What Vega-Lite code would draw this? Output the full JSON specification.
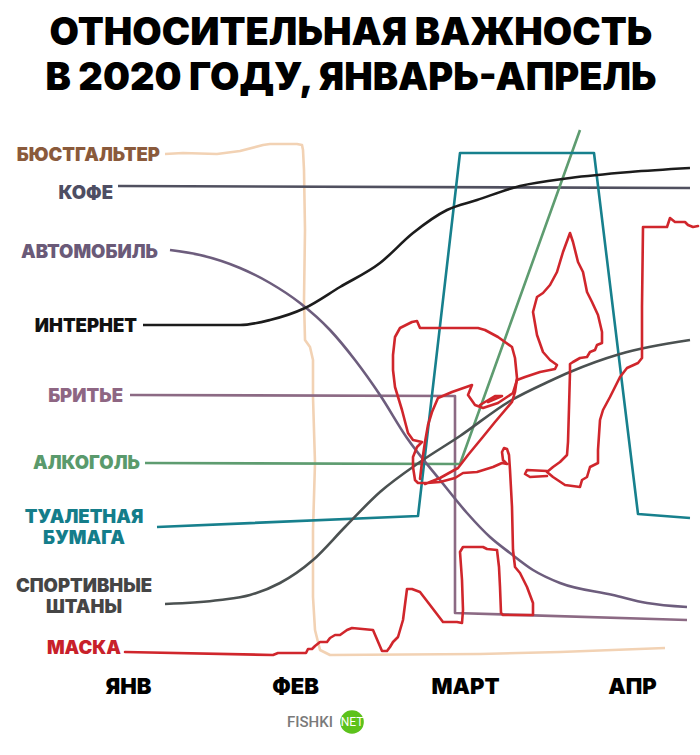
{
  "$schema": "https://vega.github.io/schema/vega-lite/v6.json",
  "width": 700,
  "height": 562,
  "autosize": {"type": "none"},
  "padding": {"top": 110, "left": 0, "right": 0, "bottom": 83},
  "background": "white",
  "config": {"view": {"stroke": null}, "font": "Inter"},
  "title": {
    "text": ["ОТНОСИТЕЛЬНАЯ ВАЖНОСТЬ", "В 2020 ГОДУ, ЯНВАРЬ-АПРЕЛЬ"],
    "anchor": "middle",
    "frame": "group",
    "font": "Inter",
    "fontSize": 38,
    "fontWeight": 900,
    "lineHeight": 45,
    "color": "#000000",
    "offset": 12,
    "dx": 1
  },
  "datasets": {
    "pts": [
      {"s": "БЮСТГАЛЬТЕР", "i": 0, "t": 18.5, "v": 103.6},
      {"s": "БЮСТГАЛЬТЕР", "i": 1, "t": 27.5, "v": 103.8},
      {"s": "БЮСТГАЛЬТЕР", "i": 2, "t": 44.5, "v": 103.6},
      {"s": "БЮСТГАЛЬТЕР", "i": 3, "t": 56, "v": 104.2},
      {"s": "БЮСТГАЛЬТЕР", "i": 4, "t": 67.5, "v": 105.4},
      {"s": "БЮСТГАЛЬТЕР", "i": 5, "t": 71, "v": 105.6},
      {"s": "БЮСТГАЛЬТЕР", "i": 6, "t": 84.5, "v": 105.6},
      {"s": "БЮСТГАЛЬТЕР", "i": 7, "t": 87, "v": 105.4},
      {"s": "БЮСТГАЛЬТЕР", "i": 8, "t": 87.5, "v": 104.4},
      {"s": "БЮСТГАЛЬТЕР", "i": 9, "t": 88, "v": 100.4},
      {"s": "БЮСТГАЛЬТЕР", "i": 10, "t": 88.5, "v": 88.4},
      {"s": "БЮСТГАЛЬТЕР", "i": 11, "t": 88, "v": 74.4},
      {"s": "БЮСТГАЛЬТЕР", "i": 12, "t": 88.5, "v": 66.4},
      {"s": "БЮСТГАЛЬТЕР", "i": 13, "t": 91, "v": 65},
      {"s": "БЮСТГАЛЬТЕР", "i": 14, "t": 92.5, "v": 62.4},
      {"s": "БЮСТГАЛЬТЕР", "i": 15, "t": 92.5, "v": 55},
      {"s": "БЮСТГАЛЬТЕР", "i": 16, "t": 93.5, "v": 41.8},
      {"s": "БЮСТГАЛЬТЕР", "i": 17, "t": 92.5, "v": 28.4},
      {"s": "БЮСТГАЛЬТЕР", "i": 18, "t": 92.5, "v": 15},
      {"s": "БЮСТГАЛЬТЕР", "i": 19, "t": 93.5, "v": 8.4},
      {"s": "БЮСТГАЛЬТЕР", "i": 20, "t": 96, "v": 4.4},
      {"s": "БЮСТГАЛЬТЕР", "i": 21, "t": 101, "v": 3.4},
      {"s": "БЮСТГАЛЬТЕР", "i": 22, "t": 176, "v": 3.6},
      {"s": "БЮСТГАЛЬТЕР", "i": 23, "t": 216, "v": 4},
      {"s": "БЮСТГАЛЬТЕР", "i": 24, "t": 268.5, "v": 4.8},
      {"s": "КОФЕ", "i": 0, "t": -5, "v": 97.2},
      {"s": "КОФЕ", "i": 1, "t": 281, "v": 96.8},
      {"s": "БРИТЬЕ", "i": 0, "t": 1, "v": 55.4},
      {"s": "БРИТЬЕ", "i": 1, "t": 163.5, "v": 55.2},
      {"s": "БРИТЬЕ", "i": 2, "t": 163.5, "v": 11.8},
      {"s": "БРИТЬЕ", "i": 3, "t": 279.5, "v": 10.4},
      {"s": "АЛКОГОЛЬ", "i": 0, "t": 8.5, "v": 41.8},
      {"s": "АЛКОГОЛЬ", "i": 1, "t": 166, "v": 41.6},
      {"s": "АЛКОГОЛЬ", "i": 2, "t": 226, "v": 108.4},
      {"s": "ТУАЛЕТНАЯ БУМАГА", "i": 0, "t": 14.5, "v": 29},
      {"s": "ТУАЛЕТНАЯ БУМАГА", "i": 1, "t": 145, "v": 31.2},
      {"s": "ТУАЛЕТНАЯ БУМАГА", "i": 2, "t": 166, "v": 103.8},
      {"s": "ТУАЛЕТНАЯ БУМАГА", "i": 3, "t": 233, "v": 103.8},
      {"s": "ТУАЛЕТНАЯ БУМАГА", "i": 4, "t": 255, "v": 31.6},
      {"s": "ТУАЛЕТНАЯ БУМАГА", "i": 5, "t": 281, "v": 30.8}
    ],
    "smooth": [
      {"s": "АВТОМОБИЛЬ", "i": 0, "t": 21, "v": 84.4},
      {"s": "АВТОМОБИЛЬ", "i": 1, "t": 36, "v": 83.4},
      {"s": "АВТОМОБИЛЬ", "i": 2, "t": 56, "v": 80.8},
      {"s": "АВТОМОБИЛЬ", "i": 3, "t": 71, "v": 77.8},
      {"s": "АВТОМОБИЛЬ", "i": 4, "t": 86, "v": 73.8},
      {"s": "АВТОМОБИЛЬ", "i": 5, "t": 101, "v": 68.4},
      {"s": "АВТОМОБИЛЬ", "i": 6, "t": 113.5, "v": 62.4},
      {"s": "АВТОМОБИЛЬ", "i": 7, "t": 126, "v": 55.4},
      {"s": "АВТОМОБИЛЬ", "i": 8, "t": 139.5, "v": 46.8},
      {"s": "АВТОМОБИЛЬ", "i": 9, "t": 156, "v": 38.4},
      {"s": "АВТОМОБИЛЬ", "i": 10, "t": 169.5, "v": 31.8},
      {"s": "АВТОМОБИЛЬ", "i": 11, "t": 181, "v": 27},
      {"s": "АВТОМОБИЛЬ", "i": 12, "t": 191, "v": 23.8},
      {"s": "АВТОМОБИЛЬ", "i": 13, "t": 202.5, "v": 20.4},
      {"s": "АВТОМОБИЛЬ", "i": 14, "t": 216, "v": 17.8},
      {"s": "АВТОМОБИЛЬ", "i": 15, "t": 242.5, "v": 15.4},
      {"s": "АВТОМОБИЛЬ", "i": 16, "t": 259.5, "v": 13.8},
      {"s": "АВТОМОБИЛЬ", "i": 17, "t": 279.5, "v": 13},
      {"s": "ИНТЕРНЕТ", "i": 0, "t": 7.5, "v": 69.4},
      {"s": "ИНТЕРНЕТ", "i": 1, "t": 56, "v": 69.4},
      {"s": "ИНТЕРНЕТ", "i": 2, "t": 71, "v": 70.4},
      {"s": "ИНТЕРНЕТ", "i": 3, "t": 88.5, "v": 72.8},
      {"s": "ИНТЕРНЕТ", "i": 4, "t": 106, "v": 77},
      {"s": "ИНТЕРНЕТ", "i": 5, "t": 126, "v": 81.8},
      {"s": "ИНТЕРНЕТ", "i": 6, "t": 142.5, "v": 87.8},
      {"s": "ИНТЕРНЕТ", "i": 7, "t": 159.5, "v": 92.4},
      {"s": "ИНТЕРНЕТ", "i": 8, "t": 174.5, "v": 94.4},
      {"s": "ИНТЕРНЕТ", "i": 9, "t": 196, "v": 97.2},
      {"s": "ИНТЕРНЕТ", "i": 10, "t": 221, "v": 98.8},
      {"s": "ИНТЕРНЕТ", "i": 11, "t": 251, "v": 100},
      {"s": "ИНТЕРНЕТ", "i": 12, "t": 281, "v": 100.8},
      {"s": "СПОРТИВНЫЕ ШТАНЫ", "i": 0, "t": 18.5, "v": 13.6},
      {"s": "СПОРТИВНЫЕ ШТАНЫ", "i": 1, "t": 46, "v": 14.4},
      {"s": "СПОРТИВНЫЕ ШТАНЫ", "i": 2, "t": 61, "v": 15.4},
      {"s": "СПОРТИВНЫЕ ШТАНЫ", "i": 3, "t": 76, "v": 17.8},
      {"s": "СПОРТИВНЫЕ ШТАНЫ", "i": 4, "t": 92.5, "v": 22.4},
      {"s": "СПОРТИВНЫЕ ШТАНЫ", "i": 5, "t": 108.5, "v": 29},
      {"s": "СПОРТИВНЫЕ ШТАНЫ", "i": 6, "t": 126, "v": 36},
      {"s": "СПОРТИВНЫЕ ШТАНЫ", "i": 7, "t": 146, "v": 42},
      {"s": "СПОРТИВНЫЕ ШТАНЫ", "i": 8, "t": 166, "v": 47.2},
      {"s": "СПОРТИВНЫЕ ШТАНЫ", "i": 9, "t": 191, "v": 54.2},
      {"s": "СПОРТИВНЫЕ ШТАНЫ", "i": 10, "t": 211, "v": 58.2},
      {"s": "СПОРТИВНЫЕ ШТАНЫ", "i": 11, "t": 221, "v": 60},
      {"s": "СПОРТИВНЫЕ ШТАНЫ", "i": 12, "t": 246, "v": 63.6},
      {"s": "СПОРТИВНЫЕ ШТАНЫ", "i": 13, "t": 281, "v": 66.4}
    ],
    "mask": [
      {"seg": "A", "i": 0, "t": -1.5, "v": 4},
      {"seg": "A", "i": 1, "t": 72.5, "v": 3.4},
      {"seg": "A", "i": 2, "t": 75, "v": 3.8},
      {"seg": "A", "i": 3, "t": 89, "v": 3.8},
      {"seg": "A", "i": 4, "t": 90, "v": 4.6},
      {"seg": "A", "i": 5, "t": 92, "v": 4.6},
      {"seg": "A", "i": 6, "t": 93.5, "v": 5.2},
      {"seg": "A", "i": 7, "t": 96, "v": 6},
      {"seg": "A", "i": 8, "t": 99.5, "v": 6},
      {"seg": "A", "i": 9, "t": 101, "v": 6.8},
      {"seg": "A", "i": 10, "t": 103.5, "v": 7.4},
      {"seg": "A", "i": 11, "t": 106, "v": 7.4},
      {"seg": "A", "i": 12, "t": 109.5, "v": 8.4},
      {"seg": "A", "i": 13, "t": 112, "v": 8.8},
      {"seg": "A", "i": 14, "t": 122.5, "v": 8.4},
      {"seg": "A", "i": 15, "t": 127, "v": 4.2},
      {"seg": "A", "i": 16, "t": 129.5, "v": 4.2},
      {"seg": "A", "i": 17, "t": 131, "v": 5},
      {"seg": "A", "i": 18, "t": 132.5, "v": 6},
      {"seg": "A", "i": 19, "t": 135, "v": 7},
      {"seg": "A", "i": 20, "t": 137.5, "v": 10.4},
      {"seg": "A", "i": 21, "t": 139.5, "v": 16.6},
      {"seg": "A", "i": 22, "t": 142, "v": 16.6},
      {"seg": "A", "i": 23, "t": 146, "v": 16},
      {"seg": "A", "i": 24, "t": 151, "v": 13.4},
      {"seg": "A", "i": 25, "t": 157.5, "v": 10},
      {"seg": "A", "i": 26, "t": 164.5, "v": 10},
      {"seg": "A", "i": 27, "t": 167, "v": 9.8},
      {"seg": "A", "i": 28, "t": 167.5, "v": 12.4},
      {"seg": "A", "i": 29, "t": 167, "v": 18.4},
      {"seg": "A", "i": 30, "t": 166, "v": 24},
      {"seg": "A", "i": 31, "t": 167.5, "v": 25},
      {"seg": "A", "i": 32, "t": 177.5, "v": 25},
      {"seg": "A", "i": 33, "t": 179.5, "v": 24.6},
      {"seg": "A", "i": 34, "t": 184.5, "v": 24.4},
      {"seg": "A", "i": 35, "t": 185.5, "v": 21},
      {"seg": "A", "i": 36, "t": 186, "v": 17},
      {"seg": "A", "i": 37, "t": 186.5, "v": 11.8},
      {"seg": "A", "i": 38, "t": 187.5, "v": 11.4},
      {"seg": "A", "i": 39, "t": 202.5, "v": 11.4},
      {"seg": "A", "i": 40, "t": 202.5, "v": 13.8},
      {"seg": "A", "i": 41, "t": 199.5, "v": 17},
      {"seg": "A", "i": 42, "t": 196, "v": 19.8},
      {"seg": "A", "i": 43, "t": 193.5, "v": 21},
      {"seg": "A", "i": 44, "t": 192.5, "v": 24.4},
      {"seg": "A", "i": 45, "t": 192, "v": 33},
      {"seg": "A", "i": 46, "t": 191, "v": 40.4},
      {"seg": "A", "i": 47, "t": 190.5, "v": 43.4},
      {"seg": "A", "i": 48, "t": 189.5, "v": 44.6},
      {"seg": "A", "i": 49, "t": 188, "v": 44.8},
      {"seg": "A", "i": 50, "t": 187, "v": 44},
      {"seg": "A", "i": 51, "t": 187.5, "v": 42.4},
      {"seg": "A", "i": 52, "t": 189.5, "v": 41.6},
      {"seg": "A", "i": 53, "t": 187, "v": 41.8},
      {"seg": "A", "i": 54, "t": 182.5, "v": 41},
      {"seg": "A", "i": 55, "t": 174.5, "v": 40},
      {"seg": "A", "i": 56, "t": 167.5, "v": 39.8},
      {"seg": "A", "i": 57, "t": 163.5, "v": 38.8},
      {"seg": "A", "i": 58, "t": 156, "v": 38},
      {"seg": "A", "i": 59, "t": 149.5, "v": 37.8},
      {"seg": "A", "i": 60, "t": 145, "v": 37.8},
      {"seg": "A", "i": 61, "t": 143.5, "v": 38.4},
      {"seg": "A", "i": 62, "t": 142.5, "v": 41},
      {"seg": "A", "i": 63, "t": 142.5, "v": 43},
      {"seg": "A", "i": 64, "t": 144.5, "v": 45},
      {"seg": "A", "i": 65, "t": 147, "v": 46},
      {"seg": "A", "i": 66, "t": 142.5, "v": 46.4},
      {"seg": "A", "i": 67, "t": 140, "v": 47.8},
      {"seg": "A", "i": 68, "t": 137, "v": 52.4},
      {"seg": "A", "i": 69, "t": 133.5, "v": 57},
      {"seg": "A", "i": 70, "t": 132.5, "v": 60.4},
      {"seg": "A", "i": 71, "t": 132.5, "v": 63.4},
      {"seg": "A", "i": 72, "t": 133.5, "v": 67},
      {"seg": "A", "i": 73, "t": 136, "v": 68.8},
      {"seg": "A", "i": 74, "t": 142, "v": 70},
      {"seg": "A", "i": 75, "t": 144.5, "v": 70.2},
      {"seg": "A", "i": 76, "t": 146, "v": 68.8},
      {"seg": "A", "i": 77, "t": 175, "v": 68.8},
      {"seg": "A", "i": 78, "t": 178.5, "v": 68.4},
      {"seg": "A", "i": 79, "t": 185, "v": 67},
      {"seg": "A", "i": 80, "t": 192, "v": 65},
      {"seg": "A", "i": 81, "t": 193.5, "v": 62.8},
      {"seg": "A", "i": 82, "t": 194.5, "v": 58.8},
      {"seg": "A", "i": 83, "t": 193.5, "v": 56},
      {"seg": "A", "i": 84, "t": 192, "v": 54},
      {"seg": "A", "i": 85, "t": 183.5, "v": 50},
      {"seg": "A", "i": 86, "t": 177, "v": 46.8},
      {"seg": "A", "i": 87, "t": 170, "v": 43.4},
      {"seg": "A", "i": 88, "t": 165, "v": 40.8},
      {"seg": "A", "i": 89, "t": 156, "v": 38.8},
      {"seg": "A", "i": 90, "t": 148.5, "v": 37.6},
      {"seg": "B", "i": 0, "t": 146, "v": 38.6},
      {"seg": "B", "i": 1, "t": 147, "v": 42},
      {"seg": "B", "i": 2, "t": 148.5, "v": 46},
      {"seg": "B", "i": 3, "t": 150, "v": 49.4},
      {"seg": "B", "i": 4, "t": 152, "v": 52},
      {"seg": "B", "i": 5, "t": 155, "v": 54.8},
      {"seg": "B", "i": 6, "t": 162, "v": 56},
      {"seg": "B", "i": 7, "t": 172, "v": 57.4},
      {"seg": "B", "i": 8, "t": 170, "v": 55.4},
      {"seg": "B", "i": 9, "t": 173.5, "v": 53.4},
      {"seg": "B", "i": 10, "t": 177.5, "v": 52.8},
      {"seg": "B", "i": 11, "t": 185, "v": 53.8},
      {"seg": "B", "i": 12, "t": 192.5, "v": 55.8},
      {"seg": "B", "i": 13, "t": 194.5, "v": 58.4},
      {"seg": "B", "i": 14, "t": 198.5, "v": 59},
      {"seg": "B", "i": 15, "t": 206, "v": 60},
      {"seg": "B", "i": 16, "t": 213.5, "v": 60.6},
      {"seg": "B", "i": 17, "t": 214.5, "v": 61.4},
      {"seg": "B", "i": 18, "t": 211, "v": 62.4},
      {"seg": "B", "i": 19, "t": 207.5, "v": 64},
      {"seg": "B", "i": 20, "t": 204.5, "v": 67.4},
      {"seg": "B", "i": 21, "t": 202.5, "v": 72},
      {"seg": "B", "i": 22, "t": 204.5, "v": 75},
      {"seg": "B", "i": 23, "t": 207.5, "v": 75.8},
      {"seg": "B", "i": 24, "t": 211, "v": 77.4},
      {"seg": "B", "i": 25, "t": 214.5, "v": 80},
      {"seg": "B", "i": 26, "t": 217.5, "v": 84},
      {"seg": "B", "i": 27, "t": 221, "v": 87.8},
      {"seg": "B", "i": 28, "t": 222.5, "v": 86},
      {"seg": "B", "i": 29, "t": 225, "v": 82},
      {"seg": "B", "i": 30, "t": 227.5, "v": 80},
      {"seg": "B", "i": 31, "t": 229.5, "v": 76},
      {"seg": "B", "i": 32, "t": 232, "v": 74},
      {"seg": "B", "i": 33, "t": 235, "v": 71.4},
      {"seg": "B", "i": 34, "t": 237, "v": 68},
      {"seg": "B", "i": 35, "t": 237, "v": 65.8},
      {"seg": "B", "i": 36, "t": 234.5, "v": 65.4},
      {"seg": "B", "i": 37, "t": 233.5, "v": 64.4},
      {"seg": "B", "i": 38, "t": 231, "v": 64},
      {"seg": "B", "i": 39, "t": 229.5, "v": 63},
      {"seg": "B", "i": 40, "t": 226, "v": 62.8},
      {"seg": "B", "i": 41, "t": 222.5, "v": 62},
      {"seg": "B", "i": 42, "t": 221, "v": 61.6},
      {"seg": "B", "i": 43, "t": 221, "v": 60},
      {"seg": "B", "i": 44, "t": 220.5, "v": 52.8},
      {"seg": "B", "i": 45, "t": 220, "v": 46},
      {"seg": "B", "i": 46, "t": 219.5, "v": 43.4},
      {"seg": "B", "i": 47, "t": 216, "v": 42},
      {"seg": "B", "i": 48, "t": 212.5, "v": 41},
      {"seg": "B", "i": 49, "t": 209.5, "v": 40},
      {"seg": "B", "i": 50, "t": 212.5, "v": 39},
      {"seg": "B", "i": 51, "t": 218.5, "v": 37.4},
      {"seg": "B", "i": 52, "t": 226, "v": 37},
      {"seg": "B", "i": 53, "t": 227, "v": 38.4},
      {"seg": "B", "i": 54, "t": 229.5, "v": 39},
      {"seg": "B", "i": 55, "t": 231, "v": 41},
      {"seg": "B", "i": 56, "t": 235, "v": 41.8},
      {"seg": "B", "i": 57, "t": 235, "v": 44.4},
      {"seg": "B", "i": 58, "t": 236, "v": 50.4},
      {"seg": "B", "i": 59, "t": 237.5, "v": 52.4},
      {"seg": "B", "i": 60, "t": 241, "v": 55},
      {"seg": "B", "i": 61, "t": 246, "v": 59},
      {"seg": "B", "i": 62, "t": 249.5, "v": 60.8},
      {"seg": "B", "i": 63, "t": 255, "v": 61.8},
      {"seg": "B", "i": 64, "t": 257, "v": 62.8},
      {"seg": "B", "i": 65, "t": 257, "v": 73},
      {"seg": "B", "i": 66, "t": 257.5, "v": 89},
      {"seg": "B", "i": 67, "t": 269.5, "v": 89},
      {"seg": "B", "i": 68, "t": 271, "v": 90.8},
      {"seg": "B", "i": 69, "t": 273.5, "v": 90},
      {"seg": "B", "i": 70, "t": 278.5, "v": 90},
      {"seg": "B", "i": 71, "t": 280, "v": 89.4},
      {"seg": "B", "i": 72, "t": 282.5, "v": 89},
      {"seg": "B", "i": 73, "t": 285, "v": 89.2},
      {"seg": "C", "i": 0, "t": 176, "v": 53.4},
      {"seg": "C", "i": 1, "t": 183.5, "v": 55.2},
      {"seg": "C", "i": 2, "t": 187, "v": 55.2},
      {"seg": "C", "i": 3, "t": 180, "v": 54},
      {"seg": "D", "i": 0, "t": 209.5, "v": 40.2},
      {"seg": "D", "i": 1, "t": 199.5, "v": 40.4},
      {"seg": "D", "i": 2, "t": 198.5, "v": 39.6},
      {"seg": "D", "i": 3, "t": 201, "v": 39},
      {"seg": "D", "i": 4, "t": 209.5, "v": 39.2}
    ],
    "labels": [
      {"s": "БЮСТГАЛЬТЕР", "text": "БЮСТГАЛЬТЕР", "t": 16, "v": 103.4},
      {"s": "КОФЕ", "text": "КОФЕ", "t": -7.5, "v": 95.8},
      {"s": "АВТОМОБИЛЬ", "text": "АВТОМОБИЛЬ", "t": 15, "v": 84},
      {"s": "ИНТЕРНЕТ", "text": "ИНТЕРНЕТ", "t": 4.5, "v": 69.2},
      {"s": "БРИТЬЕ", "text": "БРИТЬЕ", "t": -2.5, "v": 55.2},
      {"s": "АЛКОГОЛЬ", "text": "АЛКОГОЛЬ", "t": 6, "v": 41.8},
      {"s": "МАСКА", "text": "МАСКА", "t": -3.5, "v": 4.8}
    ],
    "labels2": [
      {"s": "ТУАЛЕТНАЯ БУМАГА", "text": "ТУАЛЕТНАЯ\nБУМАГА", "t": -22, "v": 31},
      {"s": "СПОРТИВНЫЕ ШТАНЫ", "text": "СПОРТИВНЫЕ\nШТАНЫ", "t": -22, "v": 17.2}
    ],
    "mark": [
      {"text": "FISHKI", "t": 102.5, "v": -10, "net": "NET", "tc": 112}
    ]
  },
  "layer": [
    {
      "data": {"name": "pts"},
      "mark": {"type": "line", "strokeWidth": 2.6, "strokeJoin": "round"},
      "encoding": {
        "x": {"field": "t", "type": "quantitative", "scale": {"domain": [-64, 286], "nice": false, "zero": false},
          "axis": {"values": [0, 83.5, 168.5, 252], "labelExpr": "datum.value == 0 ? 'ЯНВ' : datum.value == 83.5 ? 'ФЕВ' : datum.value == 168.5 ? 'МАРТ' : 'АПР'",
            "domain": false, "ticks": false, "grid": false, "title": null, "labelFont": "Inter", "labelFontSize": 22, "labelFontWeight": 900, "labelColor": "#000000", "labelPadding": 4}},
        "y": {"field": "v", "type": "quantitative", "scale": {"domain": [0, 112.4], "nice": false, "zero": false}, "axis": null},
        "color": {"field": "s", "type": "nominal", "legend": null,
          "scale": {"domain": ["БЮСТГАЛЬТЕР", "КОФЕ", "АВТОМОБИЛЬ", "ИНТЕРНЕТ", "БРИТЬЕ", "АЛКОГОЛЬ", "ТУАЛЕТНАЯ БУМАГА", "СПОРТИВНЫЕ ШТАНЫ", "МАСКА"],
            "range": ["#f2d2b4", "#50505f", "#6d5d7d", "#1c1c1c", "#8c6a84", "#5e9c70", "#17808d", "#4b5151", "#d0262c"]}},
        "order": {"field": "i", "type": "quantitative"}
      }
    },
    {
      "data": {"name": "smooth"},
      "mark": {"type": "line", "strokeWidth": 2.6, "interpolate": "monotone"},
      "encoding": {
        "x": {"field": "t", "type": "quantitative"},
        "y": {"field": "v", "type": "quantitative"},
        "color": {"field": "s", "type": "nominal", "legend": null,
          "scale": {"domain": ["БЮСТГАЛЬТЕР", "КОФЕ", "АВТОМОБИЛЬ", "ИНТЕРНЕТ", "БРИТЬЕ", "АЛКОГОЛЬ", "ТУАЛЕТНАЯ БУМАГА", "СПОРТИВНЫЕ ШТАНЫ", "МАСКА"],
            "range": ["#f2d2b4", "#50505f", "#6d5d7d", "#1c1c1c", "#8c6a84", "#5e9c70", "#17808d", "#4b5151", "#d0262c"]}},
        "order": {"field": "i", "type": "quantitative"}
      }
    },
    {
      "data": {"name": "mask"},
      "mark": {"type": "line", "strokeWidth": 2.6, "strokeJoin": "round", "strokeCap": "round", "color": "#d0262c"},
      "encoding": {
        "x": {"field": "t", "type": "quantitative"},
        "y": {"field": "v", "type": "quantitative"},
        "detail": {"field": "seg", "type": "nominal"},
        "order": {"field": "i", "type": "quantitative"}
      }
    },
    {
      "data": {"name": "labels"},
      "mark": {"type": "text", "align": "right", "baseline": "middle", "font": "Inter", "fontSize": 18.5, "fontWeight": 900, "letterSpacing": 3},
      "encoding": {
        "x": {"field": "t", "type": "quantitative"},
        "y": {"field": "v", "type": "quantitative"},
        "text": {"field": "text"},
        "color": {"field": "s", "type": "nominal", "legend": null,
          "scale": {"domain": ["БЮСТГАЛЬТЕР", "КОФЕ", "АВТОМОБИЛЬ", "ИНТЕРНЕТ", "БРИТЬЕ", "АЛКОГОЛЬ", "ТУАЛЕТНАЯ БУМАГА", "СПОРТИВНЫЕ ШТАНЫ", "МАСКА"],
            "range": ["#8a5a3b", "#4e4e63", "#6a5a78", "#111111", "#8e6683", "#5a9a6c", "#147d8a", "#454545", "#c8202a"]}}
      }
    },
    {
      "data": {"name": "labels2"},
      "mark": {"type": "text", "align": "center", "baseline": "middle", "font": "Inter", "fontSize": 18.5, "fontWeight": 900, "letterSpacing": 3, "lineBreak": "\n", "lineHeight": 21},
      "encoding": {
        "x": {"field": "t", "type": "quantitative"},
        "y": {"field": "v", "type": "quantitative"},
        "text": {"field": "text"},
        "color": {"field": "s", "type": "nominal", "legend": null,
          "scale": {"domain": ["БЮСТГАЛЬТЕР", "КОФЕ", "АВТОМОБИЛЬ", "ИНТЕРНЕТ", "БРИТЬЕ", "АЛКОГОЛЬ", "ТУАЛЕТНАЯ БУМАГА", "СПОРТИВНЫЕ ШТАНЫ", "МАСКА"],
            "range": ["#8a5a3b", "#4e4e63", "#6a5a78", "#111111", "#8e6683", "#5a9a6c", "#147d8a", "#454545", "#c8202a"]}}
      }
    },
    {
      "data": {"name": "mark"},
      "mark": {"type": "text", "align": "right", "baseline": "middle", "font": "Roboto", "fontSize": 15, "fontWeight": 500, "color": "#7a7a7a"},
      "encoding": {
        "x": {"field": "t", "type": "quantitative"},
        "y": {"field": "v", "type": "quantitative"},
        "text": {"field": "text"}
      }
    },
    {
      "data": {"name": "mark"},
      "mark": {"type": "point", "filled": true, "size": 560, "color": "#5cc21c", "opacity": 1},
      "encoding": {
        "x": {"field": "tc", "type": "quantitative"},
        "y": {"field": "v", "type": "quantitative"}
      }
    },
    {
      "data": {"name": "mark"},
      "mark": {"type": "text", "align": "center", "baseline": "middle", "font": "Roboto", "fontSize": 12, "color": "#ffffff"},
      "encoding": {
        "x": {"field": "tc", "type": "quantitative"},
        "y": {"field": "v", "type": "quantitative"},
        "text": {"field": "net"}
      }
    }
  ],
  "resolve": {"scale": {"color": "independent"}}
}
